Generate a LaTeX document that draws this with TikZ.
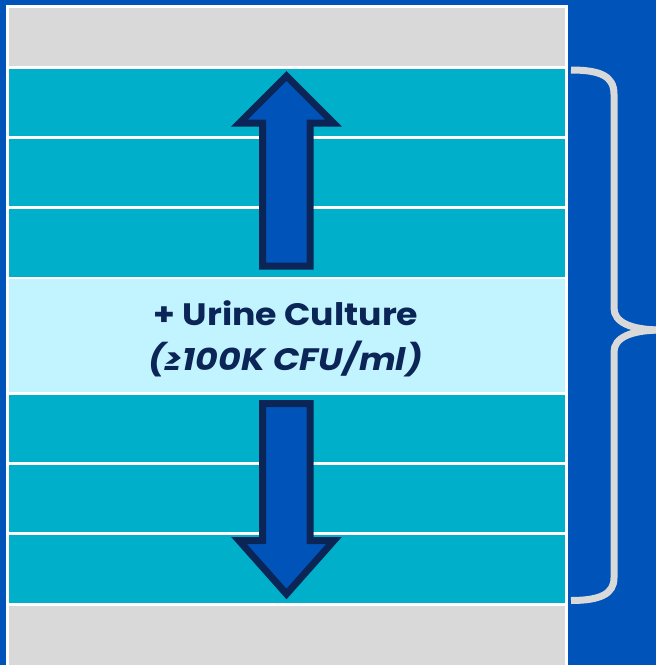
\documentclass[tikz,border=0pt]{standalone}
\usepackage{fontspec}
\setmainfont{Poppins}
\definecolor{bgblue}{HTML}{0054B9}
\definecolor{teal}{HTML}{00B0CA}
\definecolor{lightcyan}{HTML}{C2F4FF}
\definecolor{lgray}{HTML}{D9D9D9}
\definecolor{navy}{HTML}{0C2557}
\tikzset{
  tealrow/.style={fill=teal},
  grayrow/.style={fill=lgray},
  bigarrow/.style={draw=navy,fill=bgblue,line width=7pt,line join=miter,miter limit=12},
  bracestroke/.style={draw=lgray,line width=7pt},
  label/.style={text=navy,font=\bfseries\fontsize{31}{36}\selectfont,anchor=base,inner sep=0pt}
}
\begin{document}
\begin{tikzpicture}[x=1pt,y=-1pt]
\useasboundingbox (0,0) rectangle (656,665);
\clip (0,0) rectangle (656,665);
\fill[bgblue] (0,0) rectangle (656,665);
\fill[white] (6,5) rectangle (567.5,668);
% rows
\fill[grayrow] (8.5,7.5) rectangle (565,66);
\fill[tealrow] (8.5,68.5) rectangle (565,136);
\fill[tealrow] (8.5,138.5) rectangle (565,206);
\fill[tealrow] (8.5,208.5) rectangle (565,276.5);
\fill[lightcyan] (8.5,279) rectangle (565,392);
\fill[tealrow] (8.5,395) rectangle (565,462);
\fill[tealrow] (8.5,465) rectangle (565,532);
\fill[tealrow] (8.5,535) rectangle (565,602.5);
\fill[grayrow] (8.5,605.5) rectangle (565,668);
% arrows
\draw[bigarrow] (286.5,75.95) -- (333.55,123) -- (310,123) -- (310,266) -- (262.5,266) -- (262.5,123) -- (239.45,123) -- cycle;
\draw[bigarrow] (286.5,594) -- (334,540.5) -- (310,540.5) -- (310,403.5) -- (262.5,403.5) -- (262.5,540.5) -- (239,540.5) -- cycle;
% text
\node[label] (t1) at (286,325) {\scalebox{1.12}[1]{+ Urine Culture}};
\node[label] (t2) at (285.5,370) {\scalebox{1.12}[1]{\itshape(≥100K CFU/ml)}};
% brace
\draw[bracestroke] (571,70) .. controls (600,70) and (614,76) .. (614,94) -- (614,308)
  .. controls (614,322) and (630,330) .. (662,330);
\draw[bracestroke] (662,330) .. controls (630,330) and (614,338) .. (614,352) -- (614,578)
  .. controls (614,594) and (600,600.5) .. (571,600.5);
\end{tikzpicture}
\end{document}
